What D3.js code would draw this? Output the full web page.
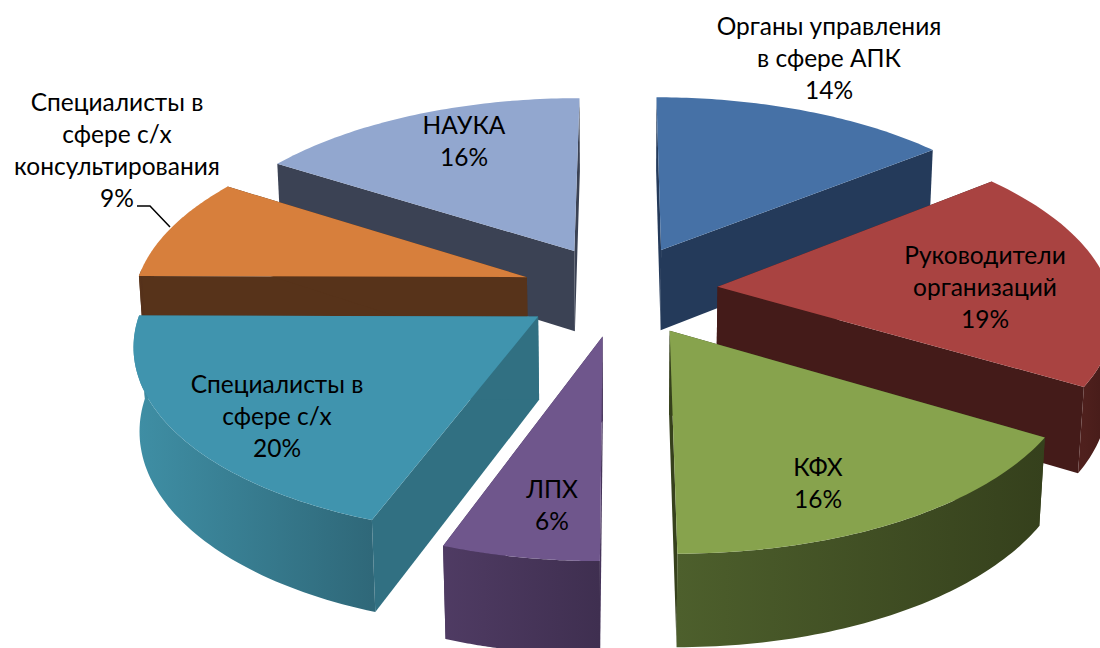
<!DOCTYPE html>
<html>
<head>
<meta charset="utf-8">
<script src="https://cdnjs.cloudflare.com/ajax/libs/d3/7.8.5/d3.min.js"></script>
<style>
html, body { margin: 0; padding: 0; background: #fff; }
svg { display: block; }
text { font-family: Lato, "Open Sans", sans-serif; font-size: 24.5px; fill: #000; }
</style>
</head>
<body>
<div id="chart"></div>
<script>
// values, clockwise from the top. labels show them rounded
const categories = ["Органы управления", "Руководители организаций", "КФХ", "ЛПХ", "Специалисты в сфере с/х", "Специалисты в сфере с/х консультирования", "НАУКА"];
const shares = [14.2, 19.4, 16.4, 5.5, 19.6, 9.0, 15.9];
const labelNames = [
    ["Органы управления", "в сфере АПК"],
    ["Руководители", "организаций"],
    ["КФХ"],
    ["ЛПХ"],
    ["Специалисты в", "сфере с/х"],
    ["Специалисты в", "сфере с/х", "консультирования"],
    ["НАУКА"]
];

// look of the slices, same order as above
const topColors = ["#4671a6", "#a94341", "#87a34d", "#6f568c", "#4094ae", "#d77f3c", "#92a7cf"];
const sideColors = ["#243a5a", "#441b19", "#36411c", "#45335a", "#317082", "#57331a", "#3b4254"];
const wallLeft = ["#2a4468", "#4f201d", "#4d5f2c", "#4f3b63", "#3f8fa5", "#5a351b", "#3f475a"];
const wallRight = ["#223755", "#431a18", "#35401c", "#3f2f50", "#2f6879", "#55311a", "#3a4153"];
const labelX = [829, 985, 818, 552, 277, 117, 464];
const labelY = [26, 255, 467, 489, 384, 102, 125];
const lineGap = 32;
const drawOrder = [6, 0, 5, 1, 4, 2, 3];

const dimensions = { width: 1100, height: 648 };
const radius = 392;
const tilt = 0.465;
const thickness = 83;
const explode = 0.25;
const perspective = 0.13;
const sink = 0.012;
const centerX = 620;
const centerY = 290;

const svg = d3.select("#chart").append("svg")
    .attr("width", dimensions.width)
    .attr("height", dimensions.height);

const defs = svg.append("defs");

const slices = d3.pie().sort(null).value(d => d).startAngle(0).endAngle(Math.PI * 2)(shares);

// pie plane to screen, u to the right, v to the back, z is 0 on top and 1 at the bottom
function project(u, v, z) {
    const k = 1 / (1 + perspective * v + sink * z);
    return [
        centerX + radius * u * k,
        centerY - radius * tilt * v * k + thickness * z * k
    ];
}

function outerPoint(slice, angle, z) {
    const mid = (slice.startAngle + slice.endAngle) / 2;
    const u = explode * Math.sin(mid) + Math.sin(angle);
    const v = explode * Math.cos(mid) + Math.cos(angle);
    return project(u, v, z);
}

function apexPoint(slice, z) {
    const mid = (slice.startAngle + slice.endAngle) / 2;
    return project(explode * Math.sin(mid), explode * Math.cos(mid), z);
}

const path = d3.line();

drawOrder.forEach(i => {
    const slice = slices[i];
    const angles = d3.range(0, 61).map(d3.scaleLinear().domain([0, 60]).range([slice.startAngle, slice.endAngle]));
    const topArc = angles.map(a => outerPoint(slice, a, 0));

    const g = svg.append("g").attr("class", "slice").attr("data-name", categories[i]);

    // the two cut faces
    [slice.startAngle, slice.endAngle].forEach(a => {
        g.append("path")
            .attr("d", path([apexPoint(slice, 0), outerPoint(slice, a, 0), outerPoint(slice, a, 1), apexPoint(slice, 1)]) + "Z")
            .attr("fill", sideColors[i]);
    });

    // the rim, shaded from left to right. only the part that faces the viewer
    const rimAngles = angles.filter(a => Math.cos(a) < 0.05);
    if (rimAngles.length > 1) {
        const xs = rimAngles.map(a => outerPoint(slice, a, 0)[0]);
        const grad = defs.append("linearGradient")
            .attr("id", "rim" + i)
            .attr("gradientUnits", "userSpaceOnUse")
            .attr("x1", d3.min(xs)).attr("x2", d3.max(xs))
            .attr("y1", 0).attr("y2", 0);
        grad.append("stop").attr("offset", 0).attr("stop-color", wallLeft[i]);
        grad.append("stop").attr("offset", 1).attr("stop-color", wallRight[i]);

        const rimTop = rimAngles.map(a => outerPoint(slice, a, 0));
        const rimBottom = rimAngles.map(a => outerPoint(slice, a, 1)).reverse();
        g.append("path")
            .attr("d", path(rimTop.concat(rimBottom)) + "Z")
            .attr("fill", "url(#rim" + i + ")");
    }

    // top face
    g.append("path")
        .attr("d", path([apexPoint(slice, 0)].concat(topArc)) + "Z")
        .attr("fill", topColors[i]);
});

// leader line of the 9% label
svg.append("path")
    .attr("d", path([[137, 206], [150, 206], [170, 227]]))
    .attr("fill", "none")
    .attr("stroke", "#000")
    .attr("stroke-width", 1.5);

labelNames.forEach((names, i) => {
    const lines = names.concat(Math.round(shares[i]) + "%");
    svg.append("text")
        .attr("text-anchor", "middle")
        .selectAll("tspan")
        .data(lines)
        .enter().append("tspan")
        .attr("x", labelX[i])
        .attr("y", (d, j) => labelY[i] + j * lineGap)
        .attr("dy", "0.35em")
        .text(d => d);
});
</script>
</body>
</html>
